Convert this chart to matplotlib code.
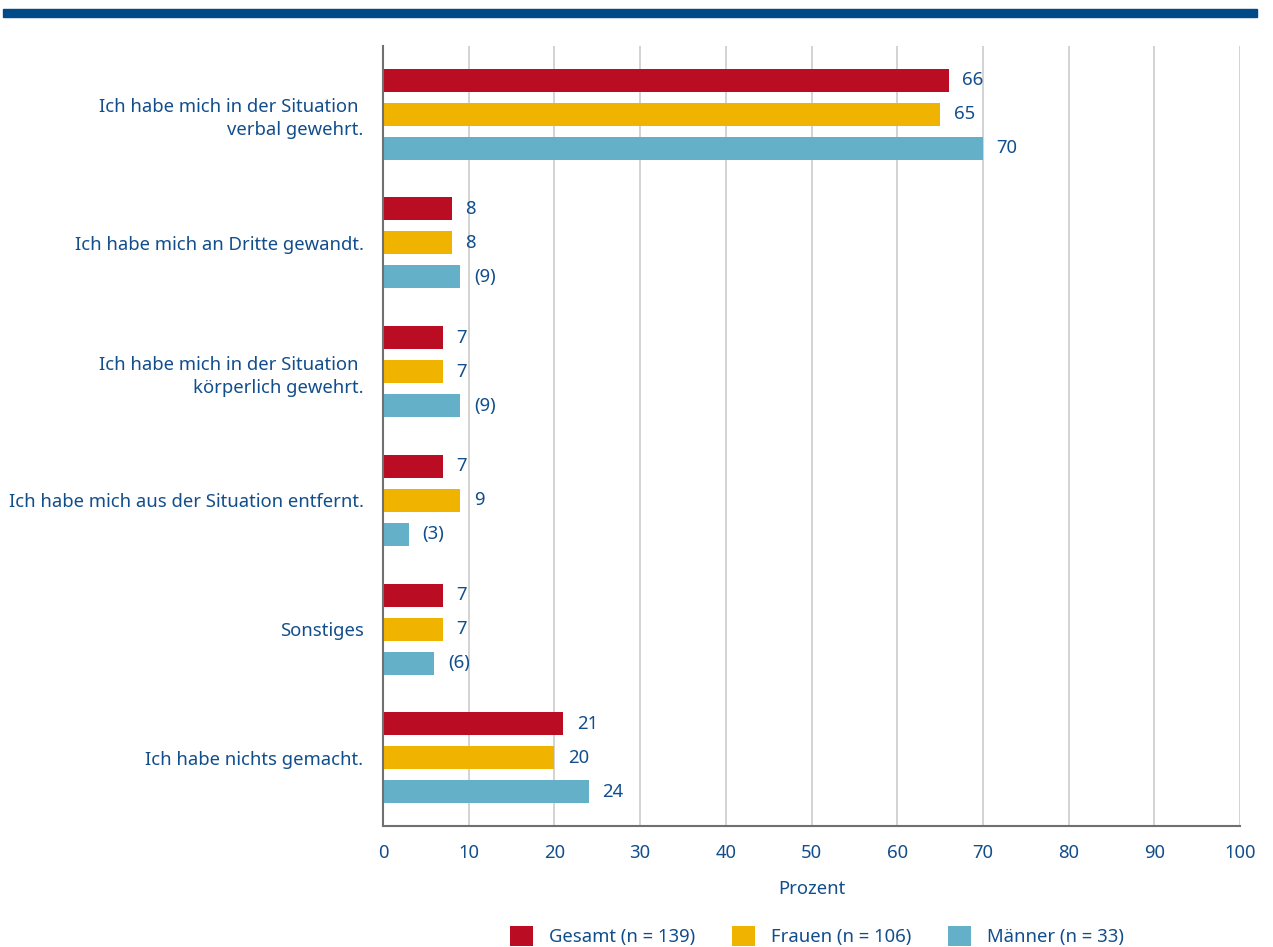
import matplotlib
matplotlib.use("Agg")
import matplotlib.pyplot as plt
from matplotlib.patches import Patch, Rectangle
import numpy as np

categories = [
    "Ich habe mich in der Situation \nverbal gewehrt.",
    "Ich habe mich an Dritte gewandt.",
    "Ich habe mich in der Situation \nkörperlich gewehrt.",
    "Ich habe mich aus der Situation entfernt.",
    "Sonstiges",
    "Ich habe nichts gemacht.",
]
series_names = ["Gesamt (n = 139)", "Frauen (n = 106)", "Männer (n = 33)"]
gesamt = [66, 8, 7, 7, 7, 21]
frauen = [65, 8, 7, 9, 7, 20]
maenner = [70, 9, 9, 3, 6, 24]
gesamt_labels = ["66", "8", "7", "7", "7", "21"]
frauen_labels = ["65", "8", "7", "9", "7", "20"]
maenner_labels = ["70", "(9)", "(9)", "(3)", "(6)", "24"]
x_ticks = list(range(0, 101, 10))

colors = ["#BA0C22", "#F0B400", "#64B0C8"]
text_color = "#124E8C"
fs = 13.3

plt.rcParams["font.family"] = ["Noto Sans", "DejaVu Sans"]

fig = plt.figure(figsize=(12.73, 9.47), dpi=100)
ax = fig.add_axes([383 / 1273, 1 - 826 / 947, (1240 - 383) / 1273, (826 - 46) / 947])

# header band
fig.patches.append(Rectangle((3 / 1273, 1 - 17 / 947), 1254 / 1273, 8 / 947,
                             transform=fig.transFigure, color="#004B87", zorder=0))

y = np.arange(len(categories))
offset = 0.264
height = 0.179
series = [gesamt, frauen, maenner]
labels = [gesamt_labels, frauen_labels, maenner_labels]

for i, (vals, labs) in enumerate(zip(series, labels)):
    pos = y + (i - 1) * offset
    ax.barh(pos, vals, height=height, color=colors[i], zorder=3)
    for p, v, lab in zip(pos, vals, labs):
        ax.text(v + 1.6, p, lab, va="center", ha="left", fontsize=fs, color=text_color)

ax.set_xlim(0, 100)
ax.set_ylim(len(categories) - 0.47, -0.53)
ax.set_xticks(x_ticks)
ax.set_xticklabels([str(t) for t in x_ticks], fontsize=fs, color=text_color)
ax.set_yticks(y)
ax.set_yticklabels(categories, fontsize=fs, color=text_color, ha="right",
                   multialignment="right", linespacing=1.35)
ax.tick_params(axis="both", length=0)
ax.tick_params(axis="x", pad=13)
ax.tick_params(axis="y", pad=14)
ax.grid(axis="x", color="#CCCCCC", linewidth=1.2, zorder=0)
for s in ["top", "right"]:
    ax.spines[s].set_visible(False)
for s in ["left", "bottom"]:
    ax.spines[s].set_color("#707070")
    ax.spines[s].set_linewidth(1.5)
    ax.spines[s].set_zorder(4)
ax.set_xlabel("Prozent", fontsize=fs, color=text_color, labelpad=13)

handles = [Patch(facecolor=c, edgecolor="none") for c in colors]
fig.legend(handles, series_names, loc="center", bbox_to_anchor=(817 / 1273, 1 - 936 / 947),
           ncol=3, frameon=False, fontsize=fs, handlelength=1.25, handleheight=1.25,
           handletextpad=0.85, columnspacing=2.0, labelcolor=text_color)

fig.savefig("out.png", dpi=100)
